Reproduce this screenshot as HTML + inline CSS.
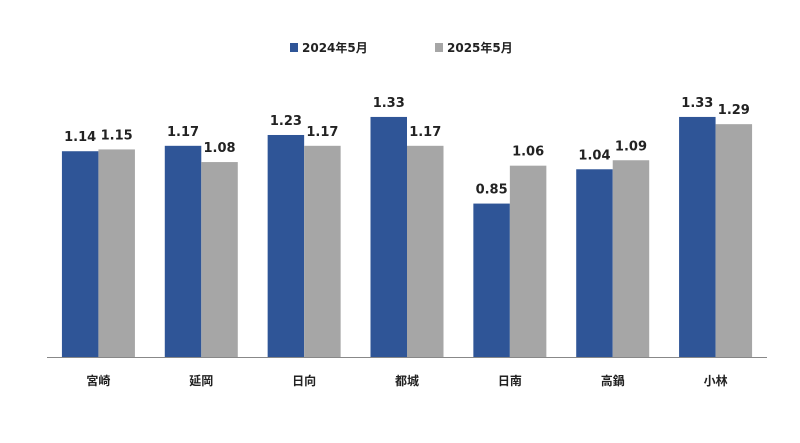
<!DOCTYPE html>
<html><head><meta charset="utf-8"><style>
body{margin:0;background:#fff;}
svg{display:block;font-family:"DejaVu Sans","Liberation Sans","Noto Sans CJK JP",sans-serif;}
</style></head><body>
<svg id="chart" width="800" height="443" viewBox="0 0 800 443">
<g>
<rect x="290" y="43" width="8" height="9" fill="#2F5597"/>
<text x="302" y="52" font-size="12" font-weight="bold" fill="#222">2024年5月</text>
<rect x="435" y="43" width="8" height="9" fill="#A6A6A6"/>
<text x="447" y="52" font-size="12" font-weight="bold" fill="#222">2025年5月</text>
</g>
<g id="bars"></g>
<line x1="47" y1="357.5" x2="767" y2="357.5" stroke="#888" stroke-width="1"/>
</svg>
<script>
const categories=["宮崎","延岡","日向","都城","日南","高鍋","小林"];
const series2024=[1.14,1.17,1.23,1.33,0.85,1.04,1.33];
const series2025=[1.15,1.08,1.17,1.17,1.06,1.09,1.29];
const labels2024=["1.14","1.17","1.23","1.33","0.85","1.04","1.33"];
const labels2025=["1.15","1.08","1.17","1.17","1.06","1.09","1.29"];
const x0=47,x1=767,base=357,pxPerUnit=180.5,barW=36.5;
const groupW=(x1-x0)/categories.length;
const y=v=>base-v*pxPerUnit;
const cx=i=>x0+groupW*(i+0.5);
const g=document.getElementById('bars');
const NS="http://www.w3.org/2000/svg";
function mk(tag,attrs){const e=document.createElementNS(NS,tag);for(const k in attrs)e.setAttribute(k,attrs[k]);return e;}
categories.forEach((c,i)=>{
  [[series2024,labels2024,"#2F5597",-barW,"2024"],[series2025,labels2025,"#A6A6A6",0,"2025"]].forEach(([s,l,col,off,yr])=>{
    const v=s[i];
    const r=mk('rect',{x:cx(i)+off,y:y(v),width:barW,height:base-y(v),fill:col});
    
    
    g.appendChild(r);
    const t=mk('text',{x:cx(i)+off+barW/2,y:y(v)-10,'text-anchor':'middle','font-size':'13','font-weight':'bold',fill:'#222'});
    t.textContent=l[i];
    
    
    g.appendChild(t);
  });
  const t=mk('text',{x:cx(i),y:385,'text-anchor':'middle','font-size':'12','font-weight':'bold',fill:'#222'});
  t.textContent=c;
  
  
  g.appendChild(t);
});
</script>
</body></html>
